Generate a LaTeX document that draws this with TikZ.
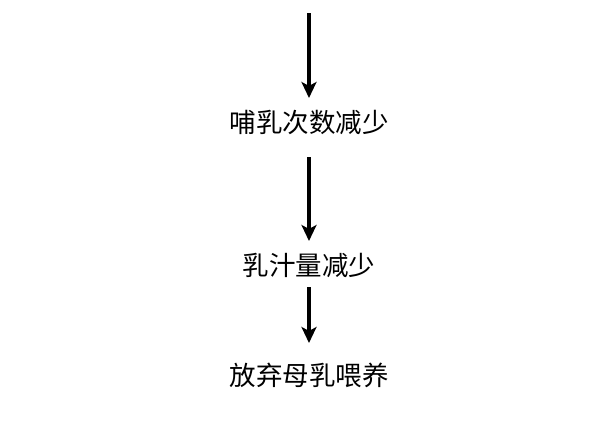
\documentclass[tikz,border=0pt]{standalone}
\usepackage{fontspec}
\newfontfamily\cjk{Noto Sans CJK SC}
\usetikzlibrary{arrows.meta}
\begin{document}
\begin{tikzpicture}[x=1pt,y=1pt,
  lbl/.style={font=\cjk\fontsize{26.5}{30}\selectfont, inner sep=0pt},
  arr/.style={line width=4.5pt, -{Stealth[width=15pt,length=16pt,inset=4pt]}}]
\useasboundingbox (0,0) rectangle (600,-423);
\node[lbl] (t1) at (309,-122) {哺乳次数减少};
\node[lbl] (t2) at (309,-265) {乳汁量减少};
\node[lbl] (t3) at (309,-375) {放弃母乳喂养};
\coordinate (top) at (309,-13);
\draw[arr, shorten >=24pt] (top) -- (t1.center);
\draw[arr, shorten <=35pt, shorten >=24pt] (t1.center) -- (t2.center);
\draw[arr, shorten <=22pt, shorten >=32pt] (t2.center) -- (t3.center);
\end{tikzpicture}
\end{document}
